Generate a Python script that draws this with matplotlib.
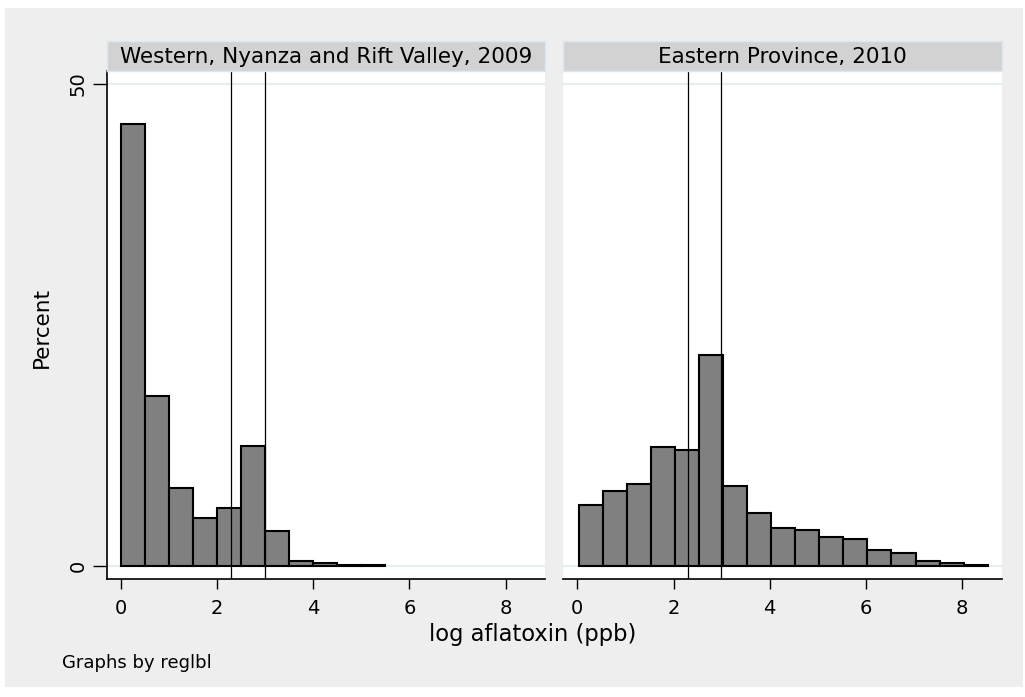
import numpy as np
import matplotlib
matplotlib.use("Agg")
import matplotlib.pyplot as plt
from matplotlib.patches import Rectangle

# Percent per bin (bin width 0.5 on log aflatoxin)
west_pct = [45.8, 17.6, 8.1, 4.9, 6.0, 12.4, 3.6, 0.5, 0.3, 0.1, 0.1]
east_pct = [6.25, 7.7, 8.5, 12.3, 12.0, 21.9, 8.3, 5.5, 3.9, 3.75,
            3.0, 2.8, 1.6, 1.3, 0.45, 0.3, 0.07]
bin_width = 0.5
west_start = 0.0
east_start = 0.03
panel_titles = ["Western, Nyanza and Rift Valley, 2009", "Eastern Province, 2010"]
cutoffs = [np.log(10), np.log(20)]
xticks = [0, 2, 4, 6, 8]
yticks = [0, 50]

W, H = 1025, 697
fig = plt.figure(figsize=(W / 100, H / 100), dpi=100)
fig.patch.set_facecolor("white")

# gray graph region (behind the axes)
fig.patches.append(Rectangle((5 / W, (H - 687) / H), (1023 - 5) / W, (687 - 8) / H,
                             transform=fig.transFigure, facecolor="#eeeeee",
                             edgecolor="none", zorder=-1))


def px_box(x0, y0, x1, y1):
    return [x0 / W, (H - y1) / H, (x1 - x0) / W, (y1 - y0) / H]


panels = [
    (106.7, 545.0, west_pct, west_start, panel_titles[0], True),
    (563.3, 1001.7, east_pct, east_start, panel_titles[1], False),
]

for x0, x1, pct, start, title, show_y in panels:
    ax = fig.add_axes(px_box(x0, 70.7, x1, 579.3))
    ax.set_facecolor("white")
    edges = start + bin_width * np.arange(len(pct))
    ax.bar(edges, pct, width=bin_width, align="edge", color="#808080",
           edgecolor="black", linewidth=1.5, zorder=2)
    for yv in yticks:
        ax.axhline(yv, color="#e6eef0", linewidth=1.5, zorder=1)
    for c in cutoffs:
        ax.axvline(c, color="black", linewidth=0.9, zorder=3)
    ax.set_xlim(-0.29, 8.82)
    ax.set_ylim(-1.41, 51.35)
    ax.set_xticks(xticks)
    ax.tick_params(axis="x", direction="out", length=7, width=1, labelsize=14,
                   pad=7, colors="black")
    for s in ["top", "right"]:
        ax.spines[s].set_visible(False)
    ax.spines["bottom"].set_linewidth(1.2)
    if show_y:
        ax.set_yticks(yticks)
        ax.tick_params(axis="y", direction="out", length=10, width=1,
                       labelsize=14, pad=4)
        for lab in ax.get_yticklabels():
            lab.set_rotation(90)
            lab.set_va("center")
        ax.spines["left"].set_linewidth(1.2)
    else:
        ax.set_yticks([])
        ax.spines["left"].set_visible(False)

    # strip with panel title
    sax = fig.add_axes(px_box(x0, 40.7, x1, 70.7))
    sax.set_facecolor("#d2d2d2")
    sax.set_xticks([])
    sax.set_yticks([])
    for s in sax.spines.values():
        s.set_edgecolor("#dde8ee")
        s.set_linewidth(1)
    sax.text(0.5, 0.47, title, ha="center", va="center", fontsize=15.5,
             transform=sax.transAxes)

fig.text(42 / W, (H - 327) / H, "Percent", rotation=90, ha="center",
         va="center", fontsize=15.5)
fig.text(533 / W, (H - 641) / H, "log aflatoxin (ppb)", ha="center",
         va="baseline", fontsize=16.3)
fig.text(62.5 / W, (H - 668) / H, "Graphs by reglbl", ha="left",
         va="baseline", fontsize=13)

fig.savefig("out.png", dpi=100, facecolor=fig.get_facecolor())
